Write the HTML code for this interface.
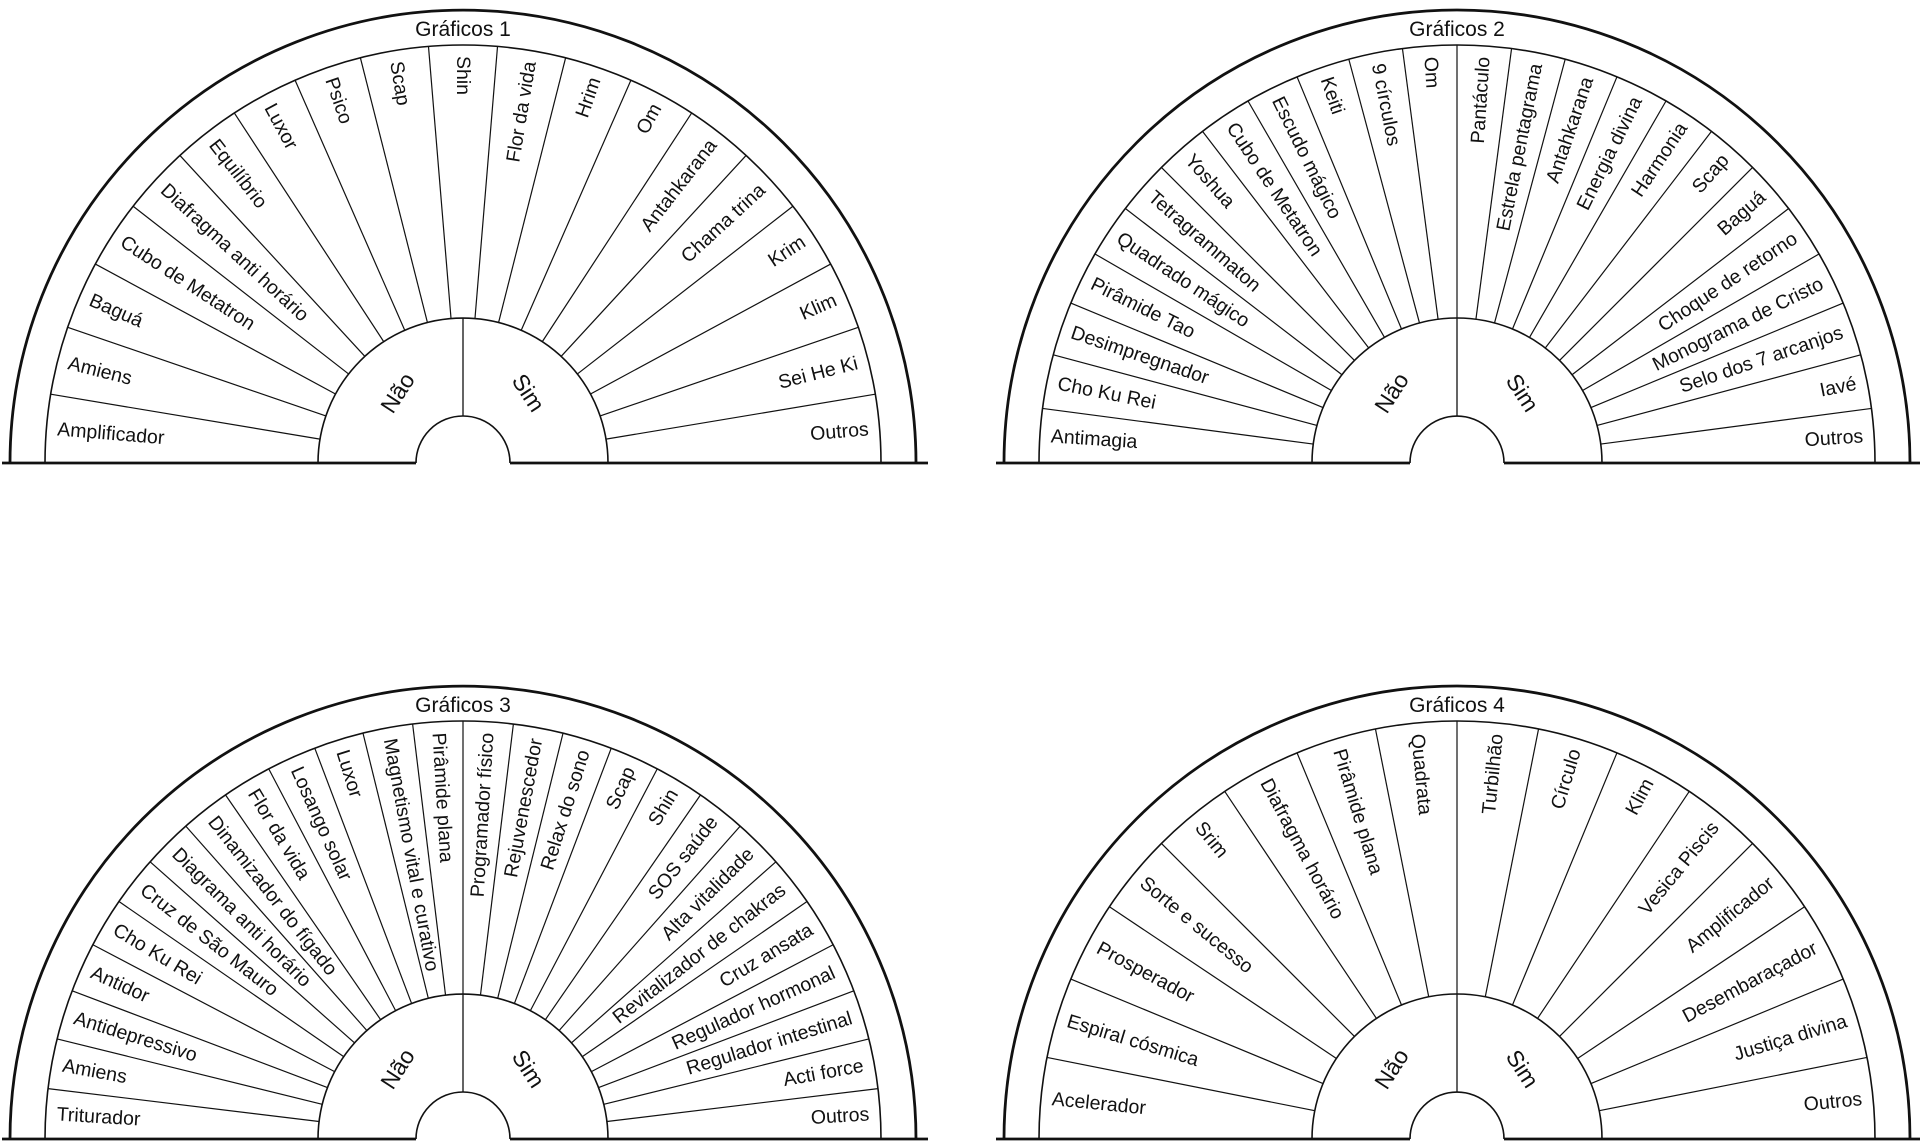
<!DOCTYPE html>
<html><head><meta charset="utf-8">
<style>
html,body{margin:0;padding:0;background:#fff;}
svg{display:block;}
text{font-family:"Liberation Sans",Arial,sans-serif;fill:#111;}
</style></head>
<body>
<svg id="s" width="1920" height="1145" viewBox="0 0 1920 1145" xmlns="http://www.w3.org/2000/svg"></svg>
<script>
const NS="http://www.w3.org/2000/svg";
const svg=document.getElementById('s');
function el(t,a,txt){const e=document.createElementNS(NS,t);for(const k in a)e.setAttribute(k,a[k]);if(txt!==undefined)e.textContent=txt;svg.appendChild(e);return e;}
const R=453,RR=418,RH=145,RO=47;
const charts=[
 {cx:463,cy:463,title:"Gráficos 1",labels:["Amplificador","Amiens","Baguá","Cubo de Metatron","Diafragma anti horário","Equilíbrio","Luxor","Psico","Scap","Shin","Flor da vida","Hrim","Om","Antahkarana","Chama trina","Krim","Klim","Sei He Ki","Outros"]},
 {cx:1457,cy:463,title:"Gráficos 2",labels:["Antimagia","Cho Ku Rei","Desimpregnador","Pirâmide Tao","Quadrado mágico","Tetragrammaton","Yoshua","Cubo de Metatron","Escudo mágico","Keiti","9 círculos","Om","Pantáculo","Estrela pentagrama","Antahkarana","Energia divina","Harmonia","Scap","Baguá","Choque de retorno","Monograma de Cristo","Selo dos 7 arcanjos","Iavé","Outros"]},
 {cx:463,cy:1139,title:"Gráficos 3",labels:["Triturador","Amiens","Antidepressivo","Antidor","Cho Ku Rei","Cruz de São Mauro","Diagrama anti horário","Dinamizador do fígado","Flor da vida","Losango solar","Luxor","Magnetismo vital e curativo","Pirâmide plana","Programador físico","Rejuvenescedor","Relax do sono","Scap","Shin","SOS saúde","Alta vitalidade","Revitalizador de chakras","Cruz ansata","Regulador hormonal","Regulador intestinal","Acti force","Outros"]},
 {cx:1457,cy:1139,title:"Gráficos 4",labels:["Acelerador","Espiral cósmica","Prosperador","Sorte e sucesso","Srim","Diafragma horário","Pirâmide plana","Quadrata","Turbilhão","Círculo","Klim","Vesica Piscis","Amplificador","Desembaraçador","Justiça divina","Outros"]}
];
function P(cx,cy,r,deg){const a=deg*Math.PI/180;return [cx+r*Math.cos(a),cy-r*Math.sin(a)];}
function arc(cx,cy,r,w){el('path',{d:`M${cx-r},${cy} A${r},${r} 0 0 1 ${cx+r},${cy}`,fill:'none',stroke:'#111','stroke-width':w});}
for(const c of charts){
 const {cx,cy}=c;const n=c.labels.length;const step=180/n;
 arc(cx,cy,R,2.8);arc(cx,cy,RR,1.6);arc(cx,cy,RH,1.6);arc(cx,cy,RO,1.6);
 el('line',{x1:cx-R-8,y1:cy,x2:cx-RO,y2:cy,stroke:'#111','stroke-width':2.8});
 el('line',{x1:cx+RO,y1:cy,x2:cx+R+12,y2:cy,stroke:'#111','stroke-width':2.8});
 el('line',{x1:cx,y1:cy-RO,x2:cx,y2:cy-RH,stroke:'#111','stroke-width':1.3});
 for(let i=1;i<n;i++){
  const d=180-i*step;const a=P(cx,cy,RH,d),b=P(cx,cy,RR,d);
  el('line',{x1:a[0],y1:a[1],x2:b[0],y2:b[1],stroke:'#111','stroke-width':1.2});
 }
 el('text',{x:cx,y:cy-R+26,'text-anchor':'middle','font-size':21},c.title);
 c.labels.forEach((t,i)=>{
  const th=180-(i+0.5)*step;
  const p=P(cx,cy,RR-11,th);
  let rot,anchor;
  if(th>=89.9){rot=180-th;anchor='start';}else{rot=-th;anchor='end';}
  el('text',{x:p[0],y:p[1],'text-anchor':anchor,'dominant-baseline':'central','font-size':19.5,transform:`rotate(${rot} ${p[0]} ${p[1]})`},t);
 });
 const pn=P(cx,cy,96,133),ps=P(cx,cy,96,47);
 el('text',{x:pn[0],y:pn[1],'text-anchor':'middle','dominant-baseline':'central','font-size':23,transform:`rotate(-57 ${pn[0]} ${pn[1]})`},"Não");
 el('text',{x:ps[0],y:ps[1],'text-anchor':'middle','dominant-baseline':'central','font-size':23,transform:`rotate(57 ${ps[0]} ${ps[1]})`},"Sim");
}
</script>
</body></html>
